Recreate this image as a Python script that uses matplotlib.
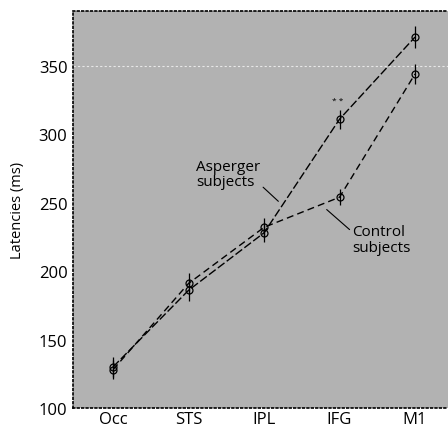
import matplotlib
matplotlib.use("Agg")
import matplotlib.pyplot as plt

regions = ["Occ", "STS", "IPL", "IFG", "M1"]
asperger = [130, 186, 228, 311, 371]
control = [128, 191, 232, 254, 344]
asperger_err = [7, 8, 7, 7, 8]
control_err = [7, 8, 7, 6, 7]
yticks = [100, 150, 200, 250, 300, 350]

plt.rcParams['font.family'] = ['Open Sans', 'DejaVu Sans']

fig = plt.figure(figsize=(4.48, 4.31), dpi=100)
ax = fig.add_axes([0.163, 0.051, 0.837, 0.921])
ax.set_facecolor('#b2b2b2')

x = list(range(len(regions)))
ax.errorbar(x, asperger, yerr=asperger_err, fmt='o', color='black',
            mfc='none', ms=5, mew=0.9, elinewidth=0.9, capsize=0,
            ls=(0, (6, 2)), lw=1.0)
ax.errorbar(x, control, yerr=control_err, fmt='o', color='black',
            mfc='none', ms=5, mew=0.9, elinewidth=0.9, capsize=0,
            ls=(0, (5, 3)), lw=1.0)

# faint white line at 350
ax.axhline(350, color='white', lw=0.8, ls=(0, (2, 2)), alpha=0.7, zorder=1)

ax.set_xlim(-0.53, 4.437)
ax.set_ylim(100, 390)
ax.set_xticks(x)
ax.set_xticklabels(regions, fontsize=12)
ax.set_yticks(yticks)
ax.tick_params(axis='y', labelsize=12, length=0, pad=4)
ax.tick_params(axis='x', length=0, pad=2)
ax.set_ylabel("Latencies (ms)", fontsize=10.5, labelpad=10)

for side in ['top', 'left', 'bottom']:
    ax.spines[side].set_linestyle(':')
    ax.spines[side].set_linewidth(1.2)
ax.spines['right'].set_visible(False)

ax.annotate("Asperger\nsubjects", xy=(2.19, 251), xytext=(1.1, 271),
            fontsize=11, ha='left', va='center', linespacing=1.05,
            arrowprops=dict(arrowstyle='-', color='black', lw=0.8,
                            shrinkA=0, shrinkB=0, relpos=(1.0, 0.15)))
ax.annotate("Control\nsubjects", xy=(2.83, 245), xytext=(3.17, 223),
            fontsize=11, ha='left', va='center', linespacing=1.05,
            arrowprops=dict(arrowstyle='-', color='black', lw=0.8,
                            shrinkA=0, shrinkB=0, relpos=(0.0, 0.75)))
ax.text(2.97, 325, "* *", fontsize=6, ha='center', va='center')

fig.savefig("out.png", dpi=100)
